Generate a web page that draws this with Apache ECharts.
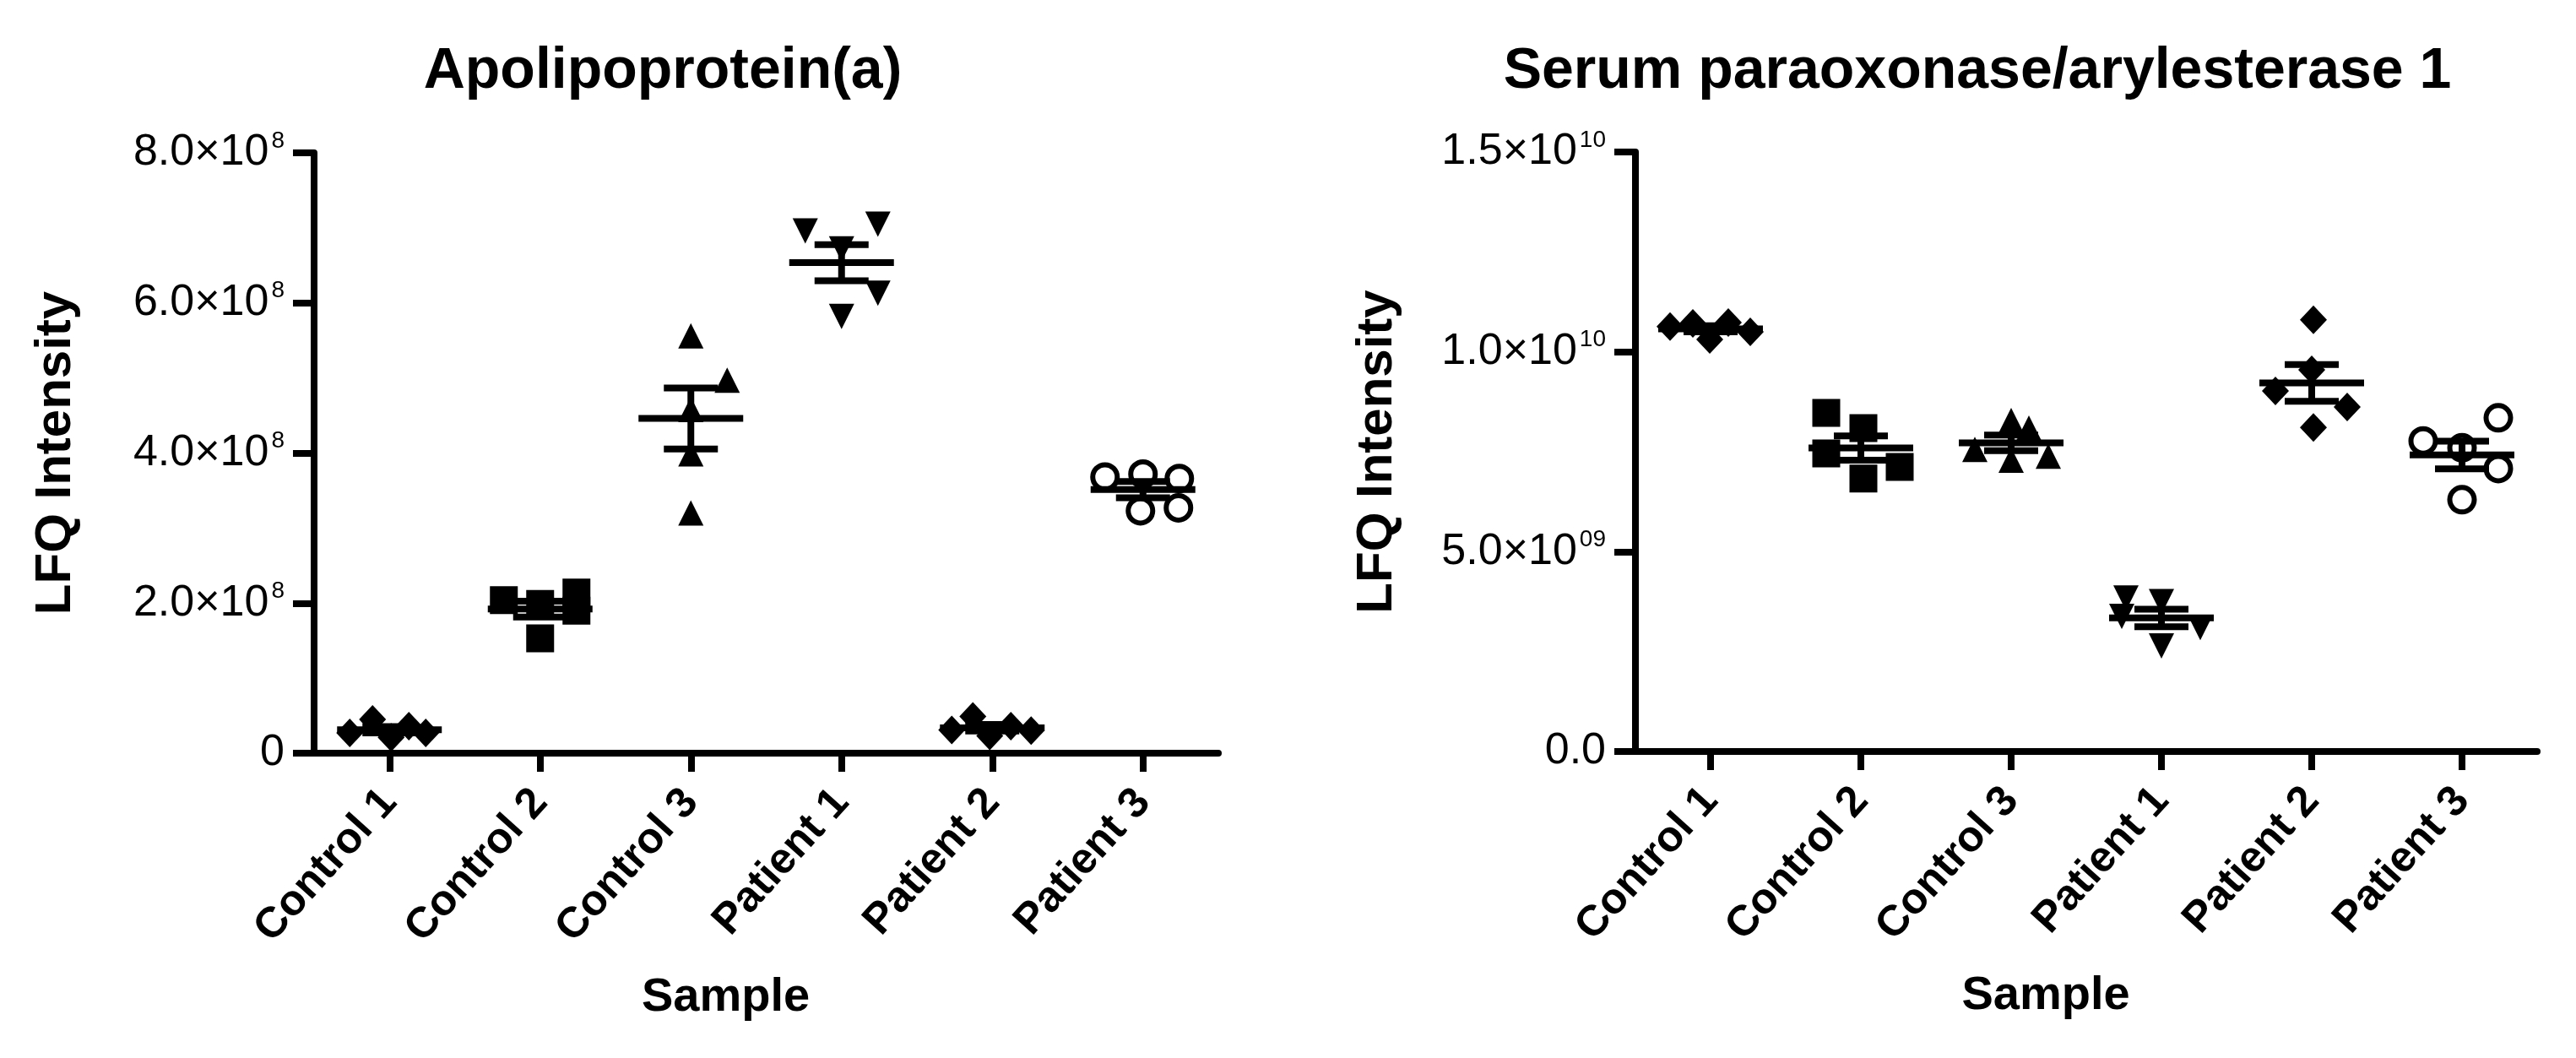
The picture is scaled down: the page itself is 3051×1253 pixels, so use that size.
<!DOCTYPE html>
<html><head><meta charset="utf-8">
<script src="https://cdn.jsdelivr.net/npm/echarts@6/dist/echarts.min.js"></script>
<style>html,body{margin:0;padding:0;background:#fff}#c{width:3051px;height:1253px}</style>
</head><body><div id="c"></div>
<script>
// ---------- data ----------
const categories = ['Control 1', 'Control 2', 'Control 3', 'Patient 1', 'Patient 2', 'Patient 3'];

// Apolipoprotein(a) LFQ intensities (5 replicates per sample)
const apoControl1 = [0.27e8, 0.45e8, 0.21e8, 0.36e8, 0.27e8];
const apoControl2 = [2.04e8, 1.99e8, 2.14e8, 1.90e8, 1.53e8];
const apoControl3 = [5.56e8, 4.97e8, 4.58e8, 3.99e8, 3.20e8];
const apoPatient1 = [6.96e8, 7.05e8, 6.72e8, 6.13e8, 5.82e8];
const apoPatient2 = [0.31e8, 0.49e8, 0.23e8, 0.36e8, 0.30e8];
const apoPatient3 = [3.68e8, 3.72e8, 3.66e8, 3.23e8, 3.27e8];

// Serum paraoxonase/arylesterase 1 LFQ intensities
const ponControl1 = [10.63e9, 10.71e9, 10.31e9, 10.73e9, 10.50e9];
const ponControl2 = [8.47e9, 8.09e9, 7.46e9, 7.12e9, 6.83e9];
const ponControl3 = [8.28e9, 8.09e9, 7.56e9, 7.29e9, 7.39e9];
const ponPatient1 = [3.84e9, 3.75e9, 3.10e9, 2.64e9, 3.38e9];
const ponPatient2 = [10.80e9, 8.11e9, 8.62e9, 9.02e9, 9.55e9];
const ponPatient3 = [8.35e9, 7.77e9, 7.08e9, 6.30e9, 7.60e9];

// y tick labels (base + superscript exponent)
const apoTickBase = ['0', '2.0×10', '4.0×10', '6.0×10', '8.0×10'];
const apoTickExp  = ['', '8', '8', '8', '8'];
const ponTickBase = ['0.0', '5.0×10', '1.0×10', '1.5×10'];
const ponTickExp  = ['', '09', '10', '10'];

// ---------- styling (pixel jitter of replicate markers, not data) ----------
const apoJitter = [[-47,-20,2,23,43],[-43,0,43,43,0],[0,43,0,0,0],[-43,43,0,43,0],[-48,-23,-3,22,46],[-45,0,43,-3,42]];
const ponJitter = [[-48,-21,-1,21,47],[-41,3,-41,46,3],[0,21,-43,0,44],[-42,0,46,0,-47],[2,2,42,-43,0],[43,-46,43,0,0]];

const apoGroups = [apoControl1, apoControl2, apoControl3, apoPatient1, apoPatient2, apoPatient3];
const ponGroups = [ponControl1, ponControl2, ponControl3, ponPatient1, ponPatient2, ponPatient3];

const markers = [
  {symbol: 'diamond', size: [32, 34], rotate: 0, hollow: false},
  {symbol: 'rect', size: 33, rotate: 0, hollow: false},
  {symbol: 'triangle', size: 30, rotate: 0, hollow: false},
  {symbol: 'triangle', size: 30, rotate: 180, hollow: false},
  {symbol: 'diamond', size: [32, 34], rotate: 0, hollow: false},
  {symbol: 'circle', size: 29, rotate: 0, hollow: true}
];

const FONT = 'Liberation Sans';

function meanSem(arr) {
  const n = arr.length;
  const m = arr.reduce((a, b) => a + b, 0) / n;
  const sd = Math.sqrt(arr.reduce((a, b) => a + (b - m) * (b - m), 0) / (n - 1));
  return [m, sd / Math.sqrt(n)];
}

function tickFormatter(bases, exps, interval) {
  return function (v) {
    const i = Math.round(v / interval);
    if (bases[i] === undefined) return '';
    return exps[i] ? '{b|' + bases[i] + '}{s|' + exps[i] + '}' : '{b|' + bases[i] + '}';
  };
}

function buildChart(gi, groups, jitter, max, interval, bases, exps) {
  const xAxis = {
    gridIndex: gi, type: 'category', data: categories, boundaryGap: true,
    axisLine: {show: true, lineStyle: {color: '#000', width: 8}},
    axisTick: {show: true, alignWithLabel: true, length: 22, lineStyle: {color: '#000', width: 8}},
    axisLabel: {rotate: 48, margin: 50, fontSize: 51, fontWeight: 'bold', color: '#000', fontFamily: FONT, interval: 0},
    splitLine: {show: false},
    name: 'Sample', nameLocation: 'middle', nameGap: 262,
    nameTextStyle: {fontSize: 56, fontWeight: 'bold', color: '#000', fontFamily: FONT, padding: [0, 96, 0, 0]}
  };
  const yAxis = {
    gridIndex: gi, type: 'value', min: 0, max: max, interval: interval,
    axisLine: {show: true, lineStyle: {color: '#000', width: 8}},
    axisTick: {show: true, length: 25, lineStyle: {color: '#000', width: 8}},
    splitLine: {show: false},
    axisLabel: {
      margin: 35, formatter: tickFormatter(bases, exps, interval),
      rich: {
        b: {fontSize: 52, fontFamily: FONT, color: '#000', lineHeight: 56},
        s: {fontSize: 28, fontFamily: FONT, color: '#000', verticalAlign: 'top', lineHeight: 56, padding: [0, 0, 0, 3]}
      }
    },
    name: 'LFQ Intensity', nameLocation: 'middle', nameGap: 276,
    nameTextStyle: {fontSize: 60, fontWeight: 'bold', color: '#000', fontFamily: FONT}
  };
  const series = [];
  groups.forEach(function (vals, i) {
    const mk = markers[i];
    series.push({
      type: 'scatter', xAxisIndex: gi, yAxisIndex: gi, z: 2,
      symbol: mk.symbol, symbolSize: mk.size, symbolRotate: mk.rotate,
      itemStyle: mk.hollow ? {color: '#fff', borderColor: '#000', borderWidth: 6, opacity: 1}
                           : {color: '#000', opacity: 1},
      emphasis: {disabled: true},
      data: vals.map(function (v, k) { return {value: [i, v], symbolOffset: [jitter[i][k], 0]}; })
    });
  });
  const stats = groups.map(function (vals, i) { const ms = meanSem(vals); return [i, ms[0], ms[1]]; });
  series.push({
    type: 'custom', xAxisIndex: gi, yAxisIndex: gi, z: 5,
    data: stats,
    encode: {x: 0, y: 1},
    renderItem: function (params, api) {
      const x = api.value(0), m = api.value(1), s = api.value(2);
      const c = api.coord([x, m]);
      const t = api.coord([x, m + s]);
      const b = api.coord([x, m - s]);
      const st = {stroke: '#000', lineWidth: 8, fill: null};
      return {type: 'group', children: [
        {type: 'line', shape: {x1: c[0] - 62, y1: c[1], x2: c[0] + 62, y2: c[1]}, style: st},
        {type: 'line', shape: {x1: c[0], y1: t[1], x2: c[0], y2: b[1]}, style: st},
        {type: 'line', shape: {x1: c[0] - 32, y1: t[1], x2: c[0] + 32, y2: t[1]}, style: st},
        {type: 'line', shape: {x1: c[0] - 32, y1: b[1], x2: c[0] + 32, y2: b[1]}, style: st}
      ]};
    }
  });
  return {xAxis: xAxis, yAxis: yAxis, series: series};
}

const left = buildChart(0, apoGroups, apoJitter, 8e8, 2e8, apoTickBase, apoTickExp);
const right = buildChart(1, ponGroups, ponJitter, 1.5e10, 5e9, ponTickBase, ponTickExp);

const chart = echarts.init(document.getElementById('c'), null, {renderer: 'canvas'});
chart.setOption({
  backgroundColor: '#fff',
  animation: false,
  title: [
    {text: 'Apolipoprotein(a)', left: 780, top: 46, textAlign: 'center',
     textStyle: {fontSize: 68, fontWeight: 'bold', color: '#000', fontFamily: FONT}},
    {text: 'Serum paraoxonase/arylesterase 1', left: 2337, top: 46, textAlign: 'center',
     textStyle: {fontSize: 68, fontWeight: 'bold', color: '#000', fontFamily: FONT}}
  ],
  grid: [
    {left: 372, top: 181, width: 1071, height: 711, containLabel: false},
    {left: 1937, top: 180, width: 1068, height: 710, containLabel: false}
  ],
  xAxis: [left.xAxis, right.xAxis],
  yAxis: [left.yAxis, right.yAxis],
  series: left.series.concat(right.series)
});
</script></body></html>
